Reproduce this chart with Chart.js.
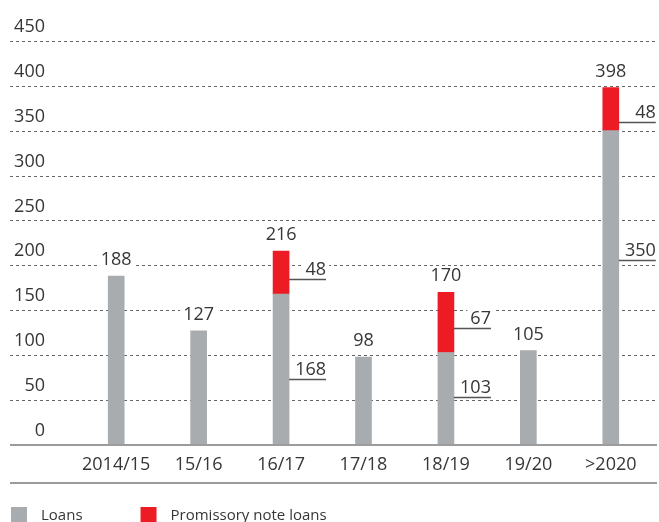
<!DOCTYPE html>
<html><head><meta charset="utf-8">
<script src="https://cdn.jsdelivr.net/npm/chart.js@4"></script>
<style>html,body{margin:0;padding:0;background:#fff;overflow:hidden}#wrap{width:659px;height:522px;position:relative}</style>
</head><body><div id="wrap"><canvas id="c" width="659" height="522"></canvas></div>
<script>
const categories = ['2014/15','15/16','16/17','17/18','18/19','19/20','>2020'];
const loans = [188,127,168,98,103,105,350];
const promissory = [null,null,48,null,67,null,48];
const yTicks = [0,50,100,150,200,250,300,350,400,450];
const seriesNames = ['Loans','Promissory note loans'];

const FONT = '"Open Sans", "Noto Sans", sans-serif';
const TEXT = '#363636';
Chart.defaults.font.family = FONT;

function labelBox(ctx, text, x, y, align) {
  const w = ctx.measureText(text).width;
  const left = align === 'right' ? x - w : (align === 'center' ? x - w / 2 : x);
  ctx.fillStyle = '#fff';
  ctx.fillRect(left - 3, y - 14, w + 6, 17);
  ctx.fillStyle = TEXT;
  ctx.textAlign = align;
  ctx.textBaseline = 'alphabetic';
  ctx.fillText(text, x, y);
}

const decor = {
  id: 'decor',
  beforeDatasetsDraw(chart) {
    const ctx = chart.ctx, ys = chart.scales.y;
    ctx.save();
    yTicks.forEach(v => {
      if (v === 0) return;
      const y = Math.round(ys.getPixelForValue(v)) + 0.5;
      ctx.beginPath();
      ctx.setLineDash([3, 3]);
      ctx.strokeStyle = '#666';
      ctx.lineWidth = 1;
      ctx.moveTo(10, y); ctx.lineTo(657, y);
      ctx.stroke();
    });
    ctx.restore();
  },
  afterDatasetsDraw(chart, args, opts) {
    const ctx = chart.ctx, ys = chart.scales.y, xs = chart.scales.x;
    ctx.save();
    ctx.setLineDash([]);
    ctx.strokeStyle = '#9c9c9c';
    ctx.lineWidth = 2;
    ctx.beginPath();
    const y0 = ys.getPixelForValue(0);
    ctx.moveTo(10, y0); ctx.lineTo(657, y0);
    ctx.moveTo(10, xs.bottom); ctx.lineTo(657, xs.bottom);
    ctx.stroke();

    ctx.font = '18px ' + FONT;
    const meta = chart.getDatasetMeta(0);
    categories.forEach((c, i) => {
      const cx = xs.getPixelForValue(i);
      const total = loans[i] + (promissory[i] || 0);
      const top = ys.getPixelForValue(total);
      labelBox(ctx, String(total), cx, top - 11, 'center');
      if (promissory[i]) {
        const half = meta.data[i].width / 2;
        const segs = [
          [0, loans[i], opts.loanFrac[i]],
          [loans[i], total, opts.promFrac[i]]
        ];
        segs.forEach(([a, b, f]) => {
          const y = Math.round(ys.getPixelForValue(a + f * (b - a))) + 0.5;
          const x1 = cx + half, x2 = cx + half + 37;
          ctx.beginPath();
          ctx.strokeStyle = '#555';
          ctx.lineWidth = 1.4;
          ctx.moveTo(x1, y); ctx.lineTo(x2, y);
          ctx.stroke();
          labelBox(ctx, String(b - a), x2, y - 5, 'right');
        });
      }
    });
    ctx.restore();
  },
  afterDraw(chart) {
    const ctx = chart.ctx;
    ctx.save();
    ctx.font = '15px ' + FONT;
    let x = 11;
    chart.data.datasets.forEach(ds => {
      ctx.fillStyle = ds.backgroundColor;
      ctx.fillRect(x, 507, 16, 16);
      ctx.fillStyle = TEXT;
      ctx.textAlign = 'left';
      ctx.textBaseline = 'alphabetic';
      ctx.fillText(ds.label, x + 30, 520);
      x = x + 30 + ctx.measureText(ds.label).width + 58;
    });
    ctx.restore();
  }
};

new Chart(document.getElementById('c'), {
  type: 'bar',
  data: {
    labels: categories,
    datasets: [
      { label: seriesNames[0], data: loans, backgroundColor: '#a8acaf', borderWidth: 0, barThickness: 16 },
      { label: seriesNames[1], data: promissory, backgroundColor: '#ed1c24', borderWidth: 0, barThickness: 16 }
    ]
  },
  options: {
    responsive: false,
    animation: false,
    layout: { padding: { top: 38, right: 7, bottom: 39, left: 0 } },
    plugins: {
      legend: { display: false },
      tooltip: { enabled: false },
      decor: {
        loanFrac: [null, null, 0.44, null, 0.52, null, 0.59],
        promFrac: [null, null, 0.34, null, 0.40, null, 0.21]
      }
    },
    scales: {
      x: {
        stacked: true,
        grid: { display: false, drawTicks: false },
        border: { display: false },
        ticks: { font: { size: 18 }, color: TEXT, padding: 9, maxRotation: 0 },
        afterFit: s => { s.height = 38; }
      },
      y: {
        stacked: true,
        min: 0, max: 450,
        grid: { display: false, drawTicks: false },
        border: { display: false },
        ticks: { font: { size: 18 }, color: TEXT, padding: 30, labelOffset: -14, stepSize: 50 },
        afterBuildTicks: s => { s.ticks = yTicks.map(v => ({ value: v })); },
        afterFit: s => { s.width = 75; }
      }
    }
  },
  plugins: [decor]
});
</script>
</body></html>
